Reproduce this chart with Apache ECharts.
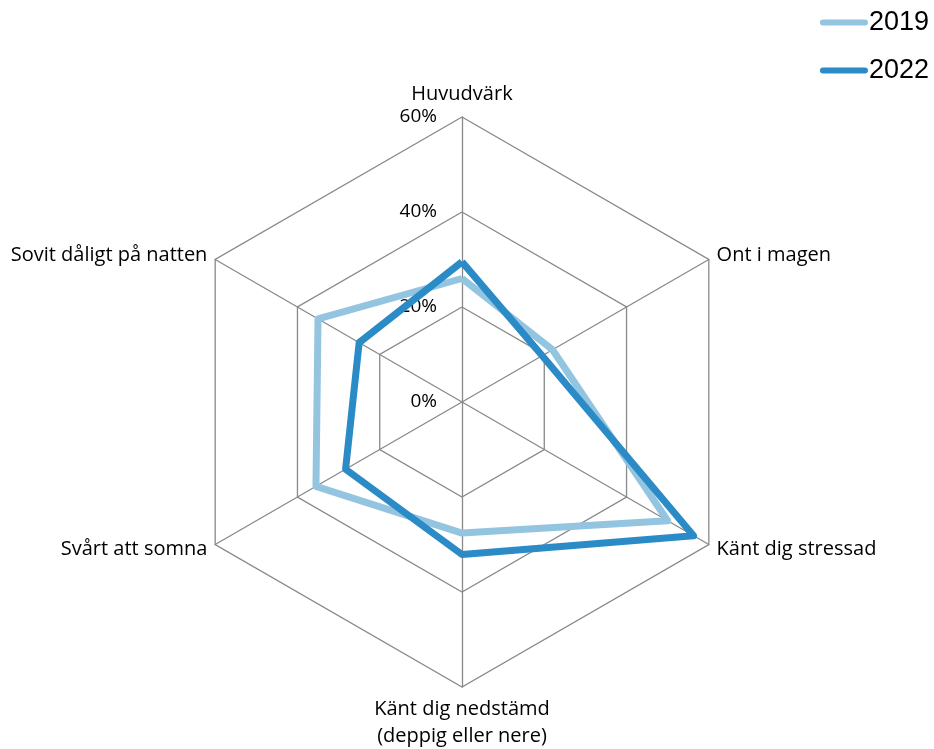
<!DOCTYPE html>
<html><head><meta charset="utf-8">
<script src="https://cdn.jsdelivr.net/npm/echarts@6/dist/echarts.min.js"></script>
<style>html,body{margin:0;padding:0;background:#fff}#c{width:934px;height:749px}</style>
</head><body><div id="c"></div>
<script>
const categories = ['Huvudvärk', 'Ont i magen', 'Känt dig stressad', 'Känt dig nedstämd\n(deppig eller nere)', 'Svårt att somna', 'Sovit dåligt på natten'];
const values2019 = [26, 22, 50, 27.6, 35.5, 35];
const values2022 = [29.5, 19.5, 56.3, 32.1, 28.3, 25];
const seriesNames = ['2019', '2022'];
const axisMax = 60;

// ECharts radar runs counter-clockwise; reorder so categories read clockwise
const order = [0, 5, 4, 3, 2, 1];
const pick = arr => order.map(i => arr[i]);

const chart = echarts.init(document.getElementById('c'));
const gray = '#898989';
const indicator = pick(categories).map((name, i) => ({
  name: name, min: 0, max: axisMax,
  axisLabel: i === 0 ? {show: true, formatter: '{value}%', color: '#000', fontSize: 19, fontFamily: 'Open Sans', margin: 25} : {show: false}
}));
const capsule = 'path://M3,0 L45,0 A3,3 0 0 1 45,6 L3,6 A3,3 0 0 1 3,0 Z';
chart.setOption({
  animation: false,
  legend: {
    orient: 'vertical', right: 0, top: 4, itemWidth: 48, itemHeight: 7, itemGap: 21,
    data: [{name: seriesNames[0], icon: capsule}, {name: seriesNames[1], icon: capsule}],
    textStyle: {fontSize: 27, fontFamily: 'Liberation Sans', color: '#000', padding: [0, 0, 0, -4]}
  },
  radar: {
    center: [462, 402], radius: 285, shape: 'polygon', splitNumber: 3,
    startAngle: 90, nameGap: 9,
    axisName: {color: '#000', fontSize: 20, fontFamily: 'Open Sans', lineHeight: 27},
    indicator: indicator,
    splitLine: {lineStyle: {color: gray, width: 1.3}},
    splitArea: {show: false},
    axisLine: {lineStyle: {color: gray, width: 1.3}},
    axisTick: {show: false}
  },
  series: [{
    type: 'radar', symbol: 'none',
    data: [
      {name: seriesNames[0], value: pick(values2019), lineStyle: {color: '#93c4e0', width: 7}, itemStyle: {color: '#93c4e0'}},
      {name: seriesNames[1], value: pick(values2022), lineStyle: {color: '#2b8bc6', width: 7}, itemStyle: {color: '#2b8bc6'}}
    ]
  }]
});
</script></body></html>
